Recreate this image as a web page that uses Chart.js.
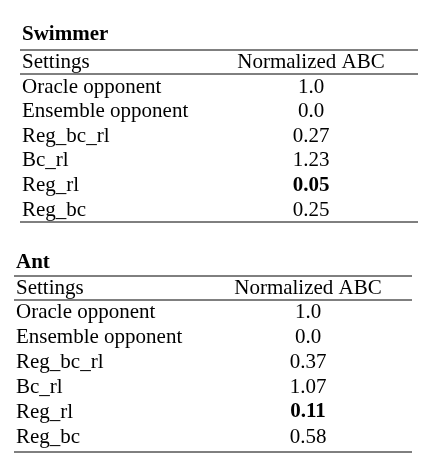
<!DOCTYPE html>
<html>
<head>
<meta charset="UTF-8">
<script src="https://cdn.jsdelivr.net/npm/chart.js"></script>
<style>
  body { margin: 0; background: white; }
  #wrap { width: 440px; height: 456px; }
</style>
</head>
<body>
<div id="wrap"><canvas id="tbl"></canvas></div>
<script>
const settings = ['Oracle opponent', 'Ensemble opponent', 'Reg_bc_rl', 'Bc_rl', 'Reg_rl', 'Reg_bc'];
const swimmerValues = ['1.0', '0.0', '0.27', '1.23', '0.05', '0.25'];
const antValues = ['1.0', '0.0', '0.37', '1.07', '0.11', '0.58'];
const boldRow = 4;
const headers = ['Settings', 'Normalized ABC'];

// table blocks, in page units (same as pixels of the 440x456 frame)
const blocks = [
  { title: 'Swimmer', values: swimmerValues, left: 20, right: 418, col: 311, titleY: 35, top: 50, headY: 62, headRule: 74, row0: 87, step: 24.6, bottom: 222 },
  { title: 'Ant', values: antValues, left: 14, right: 412, col: 308, titleY: 263, top: 276, headY: 288, headRule: 300, row0: 312, step: 25.0, bottom: 452 }
];
const FS = '21px "Liberation Serif"';

const tablePlugin = {
  id: 'table',
  afterDraw(chart) {
    const ctx = chart.ctx, xs = chart.scales.x, ys = chart.scales.y;
    const X = v => xs.getPixelForValue(v), Y = v => ys.getPixelForValue(v);
    ctx.save();
    ctx.fillStyle = '#000';
    ctx.strokeStyle = '#000';
    ctx.lineWidth = 1;
    ctx.textBaseline = 'middle';
    const rule = (y, l, r) => { ctx.beginPath(); ctx.moveTo(X(l), Y(y)); ctx.lineTo(X(r), Y(y)); ctx.stroke(); };
    blocks.forEach(b => {
      ctx.font = 'bold ' + FS;
      ctx.textAlign = 'left';
      ctx.fillText(b.title, X(b.left + 2), Y(b.titleY));
      rule(b.top, b.left, b.right);
      ctx.font = FS;
      ctx.fillText(headers[0], X(b.left + 2), Y(b.headY));
      ctx.textAlign = 'center';
      ctx.fillText(headers[1], X(b.col), Y(b.headY));
      rule(b.headRule, b.left, b.right);
      settings.forEach((s, i) => {
        const y = b.row0 + i * b.step;
        ctx.font = FS;
        ctx.textAlign = 'left';
        ctx.fillText(s, X(b.left + 2), Y(y));
        ctx.textAlign = 'center';
        ctx.font = (i === boldRow ? 'bold ' : '') + FS;
        ctx.fillText(b.values[i], X(b.col), Y(y));
      });
      rule(b.bottom, b.left, b.right);
    });
    ctx.restore();
  }
};

new Chart(document.getElementById('tbl'), {
  type: 'scatter',
  data: { datasets: [{ data: [], pointRadius: 0 }] },
  options: {
    responsive: true,
    maintainAspectRatio: false,
    animation: false,
    layout: { padding: 0 },
    plugins: { legend: { display: false }, tooltip: { enabled: false } },
    scales: {
      x: { type: 'linear', min: 0, max: 440, display: false },
      y: { type: 'linear', min: 0, max: 456, reverse: true, display: false }
    }
  },
  plugins: [tablePlugin]
});
</script>
</body>
</html>
